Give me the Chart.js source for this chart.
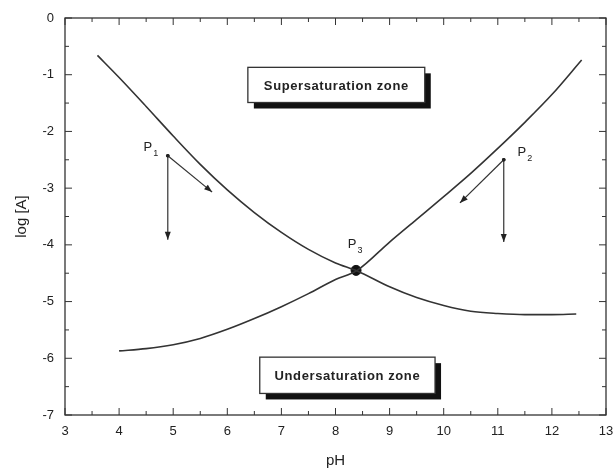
<!DOCTYPE html>
<html>
<head>
<meta charset="utf-8">
<script src="https://cdn.jsdelivr.net/npm/chart.js@4"></script>
<style>
  html, body { margin: 0; padding: 0; background: #fff; }
  #wrap { width: 613px; height: 471px; }
</style>
</head>
<body>
<div id="wrap"><canvas id="c" width="613" height="471"></canvas></div>
<script>
// ---- data ----
const xTicks = [3, 4, 5, 6, 7, 8, 9, 10, 11, 12, 13];
const yTicks = [0, -1, -2, -3, -4, -5, -6, -7];

// curve decreasing with pH
const curve1pH   = [3.6, 4.0, 4.5, 5.0, 5.5, 6.0, 6.5, 7.0, 7.5, 8.0, 8.4, 9.0, 9.5, 10.0, 10.5, 11.0, 11.5, 12.0, 12.45];
const curve1logA = [-0.66, -1.05, -1.56, -2.08, -2.58, -3.03, -3.43, -3.78, -4.08, -4.32, -4.46, -4.74, -4.93, -5.07, -5.17, -5.21, -5.23, -5.23, -5.22];

// curve increasing with pH
const curve2pH   = [4.0, 4.5, 5.0, 5.5, 6.0, 6.5, 7.0, 7.5, 8.0, 8.4, 9.0, 9.5, 10.0, 10.5, 11.0, 11.5, 12.0, 12.55];
const curve2logA = [-5.87, -5.83, -5.76, -5.65, -5.49, -5.30, -5.09, -4.86, -4.61, -4.45, -3.95, -3.55, -3.15, -2.74, -2.30, -1.84, -1.35, -0.74];

// intersection point P3
const p3 = [8.38, -4.45];
// P1 and P2 with their arrow ends
const p1 = [4.90, -2.43], p1Diag = [5.72, -3.07], p1Down = [4.90, -3.91];
const p2 = [11.11, -2.50], p2Diag = [10.30, -3.26], p2Down = [11.11, -3.95];

const zoneLabels = ['Supersaturation zone', 'Undersaturation zone'];
const pointLabels = ['1', '2', '3'];

const pts = (xs, ys) => xs.map((x, i) => ({x, y: ys[i]}));
const INK = '#222';
const FONT = '"Liberation Sans", Arial, sans-serif';

const decorPlugin = {
  id: 'decor',
  afterDatasetsDraw(chart) {
    const {ctx, scales: {x, y}, chartArea: a} = chart;
    const X = v => x.getPixelForValue(v), Y = v => y.getPixelForValue(v);
    ctx.save();
    // frame
    ctx.strokeStyle = '#333'; ctx.lineWidth = 1.3;
    ctx.strokeRect(a.left, a.top, a.right - a.left, a.bottom - a.top);
    // inward ticks on all four sides
    ctx.lineWidth = 1;
    for (let v = 3; v <= 13.001; v += 0.5) {
      const px = X(v), L = Number.isInteger(v) ? 7 : 4;
      ctx.beginPath();
      ctx.moveTo(px, a.bottom); ctx.lineTo(px, a.bottom - L);
      ctx.moveTo(px, a.top); ctx.lineTo(px, a.top + L);
      ctx.stroke();
    }
    for (let v = -7; v <= 0.001; v += 0.5) {
      const py = Y(v), L = Number.isInteger(v) ? 7 : 4;
      ctx.beginPath();
      ctx.moveTo(a.left, py); ctx.lineTo(a.left + L, py);
      ctx.moveTo(a.right, py); ctx.lineTo(a.right - L, py);
      ctx.stroke();
    }
    // arrows
    const arrow = (from, to) => {
      const x0 = X(from[0]), y0 = Y(from[1]), x1 = X(to[0]), y1 = Y(to[1]);
      const ang = Math.atan2(y1 - y0, x1 - x0);
      ctx.strokeStyle = '#333'; ctx.fillStyle = '#222'; ctx.lineWidth = 1.2;
      ctx.beginPath(); ctx.moveTo(x0, y0); ctx.lineTo(x1, y1); ctx.stroke();
      const hl = 8, hw = 3;
      ctx.beginPath();
      ctx.moveTo(x1, y1);
      ctx.lineTo(x1 - hl * Math.cos(ang) + hw * Math.sin(ang), y1 - hl * Math.sin(ang) - hw * Math.cos(ang));
      ctx.lineTo(x1 - hl * Math.cos(ang) - hw * Math.sin(ang), y1 - hl * Math.sin(ang) + hw * Math.cos(ang));
      ctx.closePath(); ctx.fill();
      ctx.beginPath(); ctx.arc(x0, y0, 1.8, 0, Math.PI * 2); ctx.fill();
    };
    arrow(p1, p1Diag); arrow(p1, p1Down);
    arrow(p2, p2Diag); arrow(p2, p2Down);
    // P labels
    const pLabel = (pt, dx, dy, sub) => {
      const px = X(pt[0]) + dx, py = Y(pt[1]) + dy;
      ctx.fillStyle = INK; ctx.textAlign = 'center'; ctx.textBaseline = 'middle';
      ctx.font = '13px ' + FONT;
      ctx.fillText('P', px, py);
      ctx.font = '9px ' + FONT;
      ctx.fillText(sub, px + 8, py + 6);
    };
    pLabel(p1, -20, -8, pointLabels[0]);
    pLabel(p2, 18, -7, pointLabels[1]);
    pLabel(p3, -4, -26, pointLabels[2]);
    // zone boxes with drop shadow
    const box = (xa, ya, xb, yb, text) => {
      const l = X(xa), t = Y(ya), r = X(xb), b = Y(yb);
      ctx.fillStyle = '#111';
      ctx.fillRect(l + 6, t + 6, r - l, b - t);
      ctx.fillStyle = '#fff';
      ctx.fillRect(l, t, r - l, b - t);
      ctx.strokeStyle = '#333'; ctx.lineWidth = 1.3;
      ctx.strokeRect(l, t, r - l, b - t);
      ctx.fillStyle = INK; ctx.textAlign = 'center'; ctx.textBaseline = 'middle';
      ctx.font = 'bold 13px ' + FONT;
      if ('letterSpacing' in ctx) ctx.letterSpacing = '0.6px';
      ctx.fillText(text, (l + r) / 2, (t + b) / 2 + 1);
      if ('letterSpacing' in ctx) ctx.letterSpacing = '0px';
    };
    box(6.38, -0.87, 9.65, -1.49, zoneLabels[0]);
    box(6.60, -5.98, 9.84, -6.62, zoneLabels[1]);
    ctx.restore();
  }
};

new Chart(document.getElementById('c'), {
  type: 'line',
  data: {
    datasets: [
      { data: pts(curve1pH, curve1logA), borderColor: '#333', borderWidth: 1.6, pointRadius: 0, tension: 0.4, cubicInterpolationMode: 'monotone', fill: false },
      { data: pts(curve2pH, curve2logA), borderColor: '#333', borderWidth: 1.6, pointRadius: 0, tension: 0.4, cubicInterpolationMode: 'monotone', fill: false },
      { data: [{x: p3[0], y: p3[1]}], showLine: false, pointRadius: 5, pointBackgroundColor: '#111', pointBorderColor: '#111' }
    ]
  },
  options: {
    responsive: false,
    animation: false,
    events: [],
    layout: { padding: { top: 18, right: 7, left: 0, bottom: 0 } },
    plugins: { legend: { display: false }, tooltip: { enabled: false } },
    scales: {
      x: {
        type: 'linear', min: 3, max: 13,
        afterBuildTicks: s => { s.ticks = xTicks.map(v => ({value: v})); },
        afterFit: s => { s.height = 56; s.paddingLeft = 0; s.paddingRight = 0; },
        grid: { display: false, drawTicks: false },
        border: { display: false },
        ticks: { color: INK, padding: 9, font: { family: FONT, size: 13 } },
        title: { display: true, text: 'pH', color: INK, padding: { top: 0, bottom: 1 }, font: { family: FONT, size: 15 } }
      },
      y: {
        type: 'linear', min: -7, max: 0,
        afterBuildTicks: s => { s.ticks = yTicks.map(v => ({value: v})); },
        afterFit: s => { s.width = 65; s.paddingTop = 0; s.paddingBottom = 0; },
        grid: { display: false, drawTicks: false },
        border: { display: false },
        ticks: { color: INK, padding: 11, font: { family: FONT, size: 13 } },
        title: { display: true, text: 'log [A]', color: INK, padding: { top: 13, bottom: 0 }, font: { family: FONT, size: 15 } }
      }
    }
  },
  plugins: [decorPlugin]
});
</script>
</body>
</html>
